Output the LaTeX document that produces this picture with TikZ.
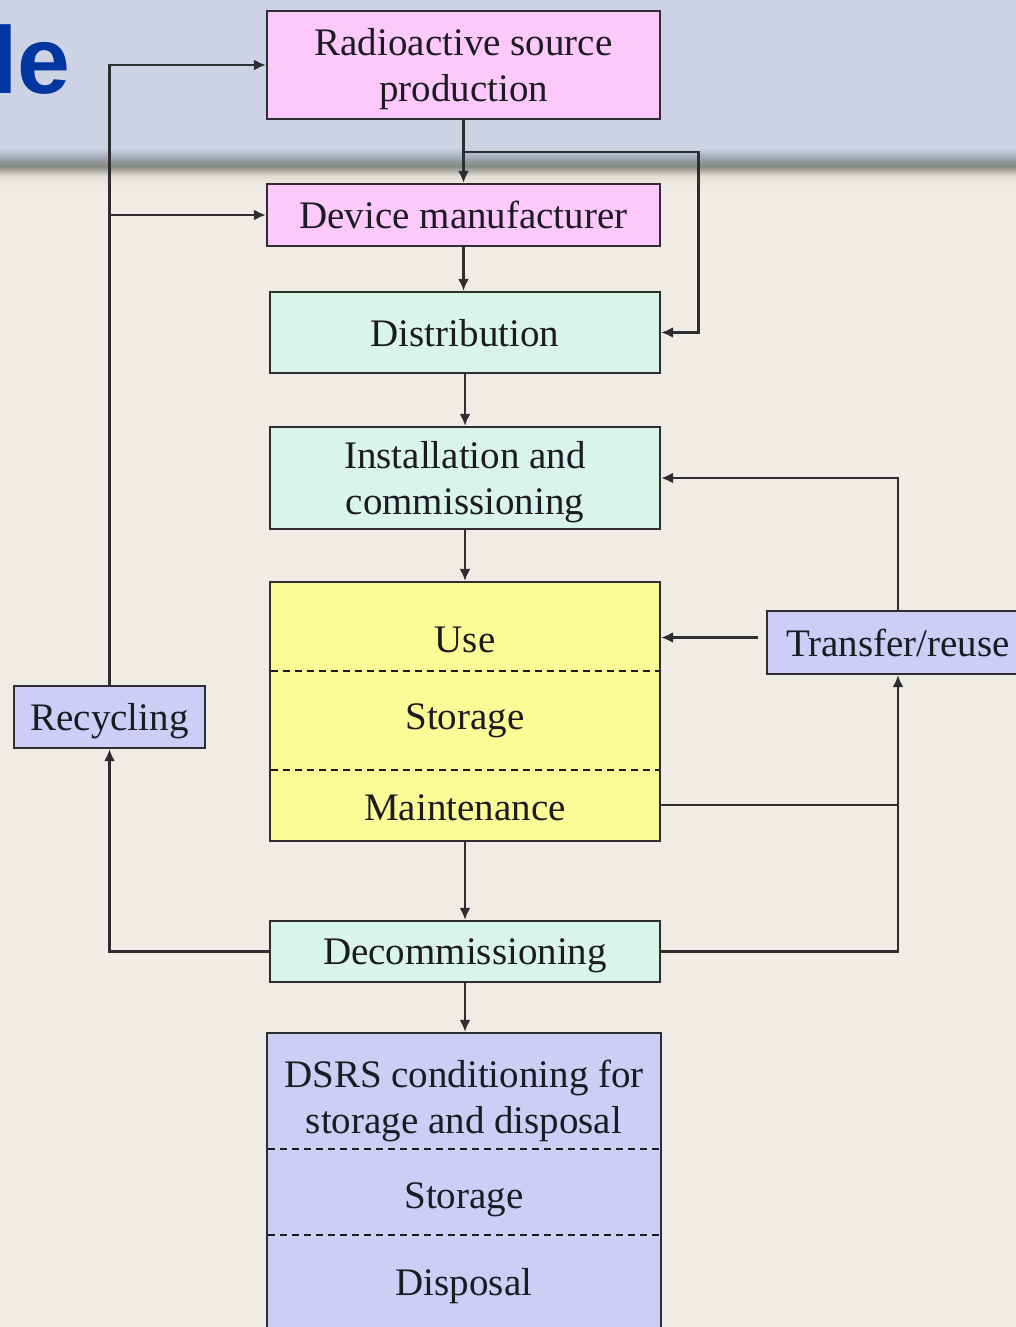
\documentclass[tikz,border=0pt]{standalone}
\usepackage{fontspec}
\setmainfont{Liberation Serif}
\newfontfamily\headsans{Liberation Sans}
\usetikzlibrary{arrows.meta,calc}

\definecolor{bandblue}{HTML}{CDD3E4}
\definecolor{bandmid}{HTML}{9EA5B3}
\definecolor{banddark}{HTML}{878882}
\definecolor{bandlow}{HTML}{E2DED4}
\definecolor{paper}{HTML}{EFECE6}
\definecolor{titleblue}{HTML}{0036A0}
\definecolor{boxpink}{HTML}{FDC9FB}
\definecolor{boxmint}{HTML}{D9F4E8}
\definecolor{boxyellow}{HTML}{FCFC96}
\definecolor{boxlav}{HTML}{CDCDF5}
\definecolor{ink}{HTML}{1C1A22}
\definecolor{edge}{HTML}{2E2E32}

\tikzset{
  stagebox/.style={draw=edge, line width=2.4pt, rectangle, inner sep=0pt,
    align=center, text=ink, text depth=0pt, font=\fontsize{39}{46}\selectfont},
  lbl/.style={text=ink, inner sep=0pt, align=center, text depth=0pt,
    font=\fontsize{39}{46}\selectfont},
  link/.style={draw=edge, line width=2.1pt},
  arr/.style={link, -{Latex[length=12pt,width=11pt]}},
  divider/.style={draw=ink, line width=1.6pt, dash pattern=on 7pt off 5pt}
}

\begin{document}
\begin{tikzpicture}[x=1pt,y=-1pt]
\useasboundingbox (0,0) rectangle (1016,1327);

% slide background: blue header band, shadow, paper
\fill[paper] (0,0) rectangle (1016,1327);
\fill[bandblue] (0,0) rectangle (1016,148);
\shade[top color=bandblue, bottom color=bandmid] (0,148) rectangle (1016,158);
\shade[top color=bandmid, bottom color=banddark] (0,158) rectangle (1016,166);
\shade[top color=banddark, bottom color=bandlow] (0,166) rectangle (1016,176);
\shade[top color=bandlow, bottom color=paper] (0,176) rectangle (1016,186);

% title fragment
\node[anchor=base west, inner sep=0pt, text=titleblue,
      font=\headsans\bfseries\fontsize{95}{110}\selectfont] (title) at (-8.7,94) {le};

% stages
\node[stagebox, fill=boxpink, minimum width=393, minimum height=108] (src) at (463.5,65)
  {Radioactive source\\production};
\node[stagebox, fill=boxpink, minimum width=393, minimum height=62] (dev) at (463.5,215)
  {Device manufacturer};
\node[stagebox, fill=boxmint, minimum width=390, minimum height=81] (dist) at (465,332.5)
  {Distribution};
\node[stagebox, fill=boxmint, minimum width=390, minimum height=102] (inst) at (465,478)
  {Installation and\\commissioning};
\node[stagebox, fill=boxyellow, minimum width=390, minimum height=259] (usebox) at (465,711.5) {};
\node[stagebox, fill=boxmint, minimum width=390, minimum height=61] (decom) at (465,951.5)
  {Decommissioning};
\node[stagebox, fill=boxlav, minimum width=394, minimum height=312] (dsrs) at (464,1189) {};
\node[stagebox, fill=boxlav, minimum width=191, minimum height=62] (recyc) at (109.5,717)
  {Recycling};
\node[stagebox, fill=boxlav, minimum width=262, minimum height=63] (trans) at (898,642.5)
  {Transfer/reuse};

% sections of the use box
\node[lbl] (uUse) at (465,640) {Use};
\node[lbl] (uSto) at (465,717) {Storage};
\node[lbl] (uMnt) at (465,808) {Maintenance};
\draw[divider] ($(usebox.north west)+(2,90)$) -- ($(usebox.north east)+(-2,90)$);
\draw[divider] ($(usebox.north west)+(2,189)$) -- ($(usebox.north east)+(-2,189)$);

% sections of the conditioning box
\node[lbl] (dCond) at (464,1097) {DSRS conditioning for\\storage and disposal};
\node[lbl] (dSto) at (464,1196) {Storage};
\node[lbl] (dDis) at (464,1282) {Disposal};
\draw[divider] ($(dsrs.north west)+(2,117)$) -- ($(dsrs.north east)+(-2,117)$);
\draw[divider] ($(dsrs.north west)+(2,203)$) -- ($(dsrs.north east)+(-2,203)$);

% main chain
\draw[arr] (src.south) -- (src.south |- dev.north);
\draw[arr] (dev.south) -- (dev.south |- dist.north);
\draw[arr] (dist.south) -- (dist.south |- inst.north);
\draw[arr] (inst.south) -- (usebox.north);
\draw[arr] (usebox.south) -- (decom.north);
\draw[arr] (decom.south) -- (decom.south |- dsrs.north);

% bypass from source production straight to distribution
\coordinate (split) at ($(src.south)+(0,32)$);
\coordinate (bypass) at ($(split)+(235,0)$);
\draw[arr] (split) -- (bypass) |- (dist.east);

% recycling loop
\draw[arr] (decom.west) -| (recyc.south);
\draw[arr] (recyc.north) |- (src.west);
\draw[arr] (recyc.north |- dev.west) -- (dev.west);

% transfer / reuse loop
\coordinate (mntOut) at ($(usebox.south east)+(0,-37)$);
\draw[link] (mntOut) -- (mntOut -| trans.south);
\draw[arr] (decom.east) -| (trans.south);
\draw[arr] (trans.north) |- (inst.east);
\coordinate (tw) at ($(trans.west)+(-8,-5)$);
\draw[arr] (tw) -- (tw -| usebox.east);
\end{tikzpicture}
\end{document}
